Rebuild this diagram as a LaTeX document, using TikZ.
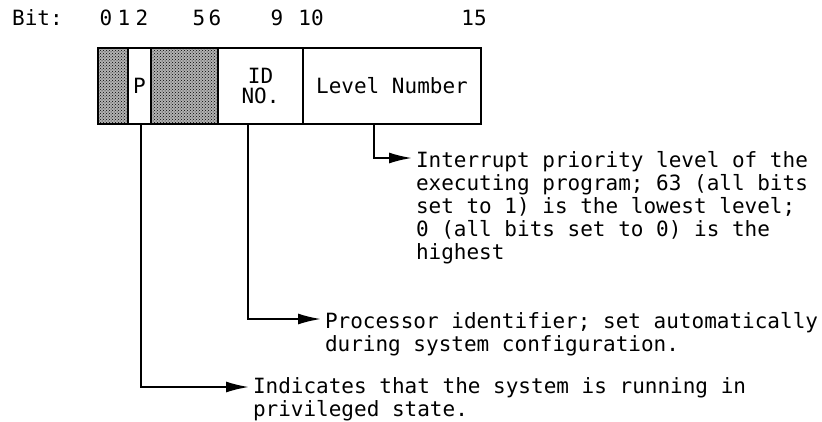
\documentclass[tikz,border=0pt]{standalone}
\usepackage{fontspec}
\setmonofont{DejaVu Sans Mono}
\usetikzlibrary{arrows.meta,patterns}

\begin{document}
\begin{tikzpicture}[x=1pt,y=-1pt,->,>={Latex[length=23pt,width=11pt]},shorten >=3pt,
  line width=2pt,
  field/.style={draw,rectangle,inner sep=0pt,outer sep=0pt,minimum height=76pt,
    font=\ttfamily\fontsize{21}{20}\selectfont,align=center},
  dot field/.style={field,fill=black!30,postaction={pattern=crosshatch dots}},
  bit label/.style={font=\ttfamily\fontsize{21}{23}\selectfont,inner sep=0pt},
  desc/.style={font=\ttfamily\fontsize{21}{23}\selectfont,align=left,inner sep=0pt,anchor=north west}]

  \useasboundingbox (0,0) rectangle (822,421);

  \node[bit label] (bit) at (37.5,18) {Bit:};
  \node[bit label] (b0) at (106,18) {0};
  \node[bit label] (b1) at (124,18) {1};
  \node[bit label] (b2) at (142,18) {2};
  \node[bit label] (b5) at (199,18) {5};
  \node[bit label] (b6) at (215,18) {6};
  \node[bit label] (b9) at (277,18) {9};
  \node[bit label] (b10) at (311,18) {10};
  \node[bit label] (b15) at (474,18) {15};

  \node[dot field,minimum width=30pt] (f0) at (113,86) {};
  \node[field,minimum width=23pt] (p) at (139.5,86) {P};
  \node[dot field,minimum width=67pt] (f2) at (184.5,86) {};
  \node[field,minimum width=85pt] (id) at (260.5,86) {ID\\NO.};
  \node[field,minimum width=178pt] (lvl) at (392,86) {Level Number};

  \node[desc] (lvltxt) at (415,150) {Interrupt priority level of the\\executing program; 63 (all bits\\set to 1) is the lowest level;\\0 (all bits set to 0) is the\\highest};
  \node[desc] (idtxt) at (324,311) {Processor identifier; set automatically\\during system configuration.};
  \node[desc] (ptxt) at (252,377) {Indicates that the system is running in\\privileged state.};

  \draw ([xshift=-18pt]lvl.south) |- ([yshift=-8pt]lvltxt.north west);
  \draw ([xshift=-12.5pt]id.south) |- ([yshift=-8pt]idtxt.north west);
  \draw ([xshift=1.5pt]p.south) |- ([yshift=-10pt]ptxt.north west);
\end{tikzpicture}
\end{document}
